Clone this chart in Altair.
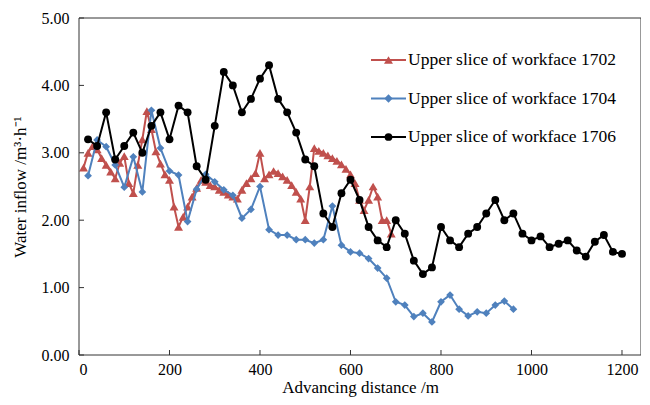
import altair as alt
import pandas as pd

names = ["Upper slice of workface 1702", "Upper slice of workface 1704", "Upper slice of workface 1706"]
colors = ["#C0504D", "#4F81BD", "#000000"]
shapes = ["triangle-up", "diamond", "circle"]
sizes = [80, 60, 62]

x_1702 = [10, 20, 30, 40, 50, 60, 70, 80, 90, 100, 110, 120, 130, 140, 150, 160, 170, 180, 190, 200,
          210, 220, 230, 240, 250, 260, 270, 280, 290, 300, 310, 320, 330, 340, 350, 360, 370, 380, 390, 400,
          410, 420, 430, 440, 450, 460, 470, 480, 490, 500, 510, 520, 530, 540, 550, 560, 570, 580, 590, 600,
          610, 620, 630, 640, 650, 660, 670, 680, 690]
y_1702 = [2.78, 3.00, 3.10, 3.05, 2.92, 2.82, 2.72, 2.62, 2.85, 2.95, 2.55, 2.40, 2.82, 3.20, 3.62, 3.35, 3.02, 2.84, 2.68, 2.60,
          2.20, 1.90, 2.05, 2.20, 2.35, 2.48, 2.60, 2.57, 2.52, 2.50, 2.45, 2.42, 2.38, 2.35, 2.32, 2.45, 2.55, 2.62, 2.70, 3.00,
          2.62, 2.68, 2.73, 2.70, 2.65, 2.60, 2.52, 2.42, 2.32, 2.00, 2.50, 3.07, 3.03, 3.00, 2.96, 2.92, 2.88, 2.83, 2.76, 2.68,
          2.55, 2.30, 2.15, 2.30, 2.50, 2.35, 2.00, 2.00, 1.80]

x_1704 = [20, 40, 60, 80, 100, 120, 140, 160, 180, 200, 220, 240, 260, 280, 300, 320, 340, 360, 380, 400,
          420, 440, 460, 480, 500, 520, 540, 560, 580, 600, 620, 640, 660, 680, 700, 720, 740, 760, 780, 800,
          820, 840, 860, 880, 900, 920, 940, 960]
y_1704 = [2.66, 3.19, 3.09, 2.82, 2.49, 2.94, 2.42, 3.63, 3.07, 2.73, 2.67, 1.98, 2.46, 2.68, 2.57, 2.45, 2.37, 2.03, 2.16, 2.50,
          1.86, 1.78, 1.78, 1.71, 1.71, 1.66, 1.71, 2.21, 1.63, 1.53, 1.51, 1.43, 1.29, 1.14, 0.79, 0.74, 0.57, 0.62, 0.49, 0.79,
          0.89, 0.68, 0.58, 0.64, 0.62, 0.74, 0.80, 0.68]

x_1706 = [20, 40, 60, 80, 100, 120, 140, 160, 180, 200, 220, 240, 260, 280, 300, 320, 340, 360, 380, 400,
          420, 440, 460, 480, 500, 520, 540, 560, 580, 600, 620, 640, 660, 680, 700, 720, 740, 760, 780, 800,
          820, 840, 860, 880, 900, 920, 940, 960, 980, 1000, 1020, 1040, 1060, 1080, 1100, 1120, 1140, 1160, 1180, 1200]
y_1706 = [3.2, 3.1, 3.6, 2.9, 3.1, 3.3, 3.0, 3.4, 3.6, 3.2, 3.7, 3.6, 2.8, 2.6, 3.4, 4.2, 4.0, 3.6, 3.8, 4.1,
          4.3, 3.8, 3.6, 3.3, 2.9, 2.8, 2.1, 1.9, 2.4, 2.6, 2.3, 1.9, 1.7, 1.6, 2.0, 1.8, 1.4, 1.2, 1.3, 1.9,
          1.7, 1.6, 1.8, 1.9, 2.1, 2.3, 2.0, 2.1, 1.8, 1.7, 1.76, 1.6, 1.65, 1.7, 1.55, 1.46, 1.68, 1.78, 1.53, 1.5]

x_ticks = [0, 200, 400, 600, 800, 1000, 1200]
y_ticks = [0, 1, 2, 3, 4, 5]

FONT = "Liberation Serif"
FRAME = "#333333"
W, H = 562, 337

rows = []
for name, xs, ys in zip(names, [x_1702, x_1704, x_1706], [y_1702, y_1704, y_1706]):
    for a, b in zip(xs, ys):
        rows.append({"series": name, "x": a, "y": b})
df = pd.DataFrame(rows)

xscale = alt.Scale(domain=[0, 1242], nice=False, zero=True)
yscale = alt.Scale(domain=[0, 5], nice=False)

xax = alt.Axis(values=x_ticks, format="d", title="Advancing distance /m", ticks=False, domain=False,
               labelPadding=6, titlePadding=2, grid=False)
yax = alt.Axis(values=y_ticks, format=".2f", title="Water inflow /m³·h⁻¹", ticks=False, domain=False,
               labelPadding=10, titlePadding=12, grid=False)

X = alt.X("x:Q", scale=xscale, axis=xax)
Y = alt.Y("y:Q", scale=yscale, axis=yax)

layers = []
for name, col, shp, sz in zip(names, colors, shapes, sizes):
    sub = alt.Chart(df).transform_filter(alt.datum.series == name)
    layers.append(sub.mark_line(color=col, strokeWidth=2).encode(x=X, y=Y))
    layers.append(sub.mark_point(color=col, shape=shp, size=sz, filled=True, opacity=1).encode(x=X, y=Y))

xt = alt.Chart(pd.DataFrame({"x": x_ticks})).mark_rule(color=FRAME, strokeWidth=1).encode(
    x=X, y=alt.value(H), y2=alt.value(H - 5))
yt = alt.Chart(pd.DataFrame({"y": y_ticks})).mark_rule(color=FRAME, strokeWidth=1).encode(
    y=Y, x=alt.value(0), x2=alt.value(5))
frame = alt.Chart(pd.DataFrame({"f": [0]})).mark_rect(fill=None, stroke=FRAME, strokeWidth=1).encode(
    x=alt.value(0), x2=alt.value(W), y=alt.value(0), y2=alt.value(H))

main = alt.layer(*layers, xt, yt, frame)

leg_df = pd.DataFrame({"series": names})
ly = alt.Y("series:N", axis=None, scale=alt.Scale(type="point", domain=names, range=[42, 119], padding=0))
lcol = alt.Color("series:N", scale=alt.Scale(domain=names, range=colors), legend=None)
lshape = alt.Shape("series:N", scale=alt.Scale(domain=names, range=shapes), legend=None)
lsize = alt.Size("series:N", scale=alt.Scale(domain=names, range=sizes), legend=None)
leg_base = alt.Chart(leg_df)
leg_line = leg_base.mark_rule(strokeWidth=2).encode(x=alt.value(292), x2=alt.value(327), y=ly, color=lcol)
leg_pt = leg_base.mark_point(filled=True, opacity=1).encode(x=alt.value(309.5), y=ly, color=lcol, shape=lshape, size=lsize)
leg_txt = leg_base.mark_text(align="left", baseline="middle", font=FONT, fontSize=17.5, color="black").encode(
    x=alt.value(329), y=ly, text="series:N")
legend = alt.layer(leg_line, leg_pt, leg_txt)

chart = alt.layer(main, legend).resolve_scale(y="independent").properties(
    width=W, height=H,
    autosize=alt.AutoSizeParams(type="none"),
    padding={"left": 71, "top": 10, "right": 0, "bottom": 42},
).configure_view(strokeWidth=0).configure_axis(
    labelFont=FONT, titleFont=FONT, labelFontSize=16, titleFontSize=17, labelColor="black",
    titleColor="black", titleFontWeight="normal", grid=False
)

chart.save("out.html", embed_options={"renderer": "svg", "actions": False})
